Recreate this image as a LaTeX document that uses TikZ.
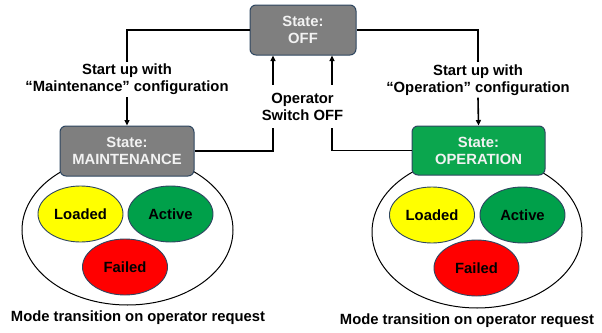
\documentclass[tikz,border=0pt]{standalone}
\usepackage{fontspec}
\setmainfont{Liberation Sans}
\usetikzlibrary{arrows.meta,shapes.geometric}

\definecolor{boxgray}{HTML}{7F7F7F}
\definecolor{boxgreen}{HTML}{0BA64E}
\definecolor{edgeblue}{HTML}{2E4660}
\definecolor{modeyellow}{HTML}{FFFF00}
\definecolor{modegreen}{HTML}{00A04A}
\definecolor{modered}{HTML}{FF0000}
\definecolor{boxtext}{HTML}{F2F2F2}

\tikzset{
  txt/.style={font=\fontsize{14.8}{17}\selectfont\bfseries},
  statebox/.style={txt, draw=edgeblue, line width=1pt, rounded corners=6pt,
    text=boxtext, align=center, inner sep=0pt},
  modeell/.style={txt, ellipse, draw=edgeblue, line width=0.9pt,
    minimum width=85pt, minimum height=56pt, inner sep=0pt},
  lbl/.style={txt, align=center, inner xsep=1pt},
  conn/.style={line width=1.6pt},
  arr/.style={conn, -{Triangle[length=5.5pt,width=5pt]}},
  group/.style={line width=1pt}
}

\begin{document}
\begin{tikzpicture}[x=1pt, y=-1pt]
\useasboundingbox (0,0) rectangle (602,332);

% outer ellipses grouping the modes of each state
\draw[group] (127.5,230) ellipse [x radius=105.5pt, y radius=75pt];
\draw[group] (477,232) ellipse [x radius=105pt, y radius=76pt];

% states
\node[statebox, fill=boxgray, minimum width=106pt, minimum height=50pt]
  (off) at (303,30) {State:\\OFF};
\node[statebox, fill=boxgray, minimum width=134pt, minimum height=50pt]
  (maint) at (127,151) {State:\\MAINTENANCE};
\node[statebox, fill=boxgreen, minimum width=133pt, minimum height=49pt]
  (oper) at (478.5,150.5) {State:\\OPERATION};

% transition labels
\node[lbl, inner ysep=2pt] (startm) at (127,79.5) {Start up with\\“Maintenance” configuration};
\node[lbl, inner ysep=2pt] (starto) at (478,80) {Start up with\\“Operation” configuration};
\node[lbl, inner ysep=8pt] (opsw) at (302.5,106.5) {Operator\\Switch OFF};

% transitions
\draw[conn] (off.west) -| (startm.north);
\draw[arr] (startm.south) -- (maint.north);
\draw[conn] (off.east) -| (starto.north);
\draw[arr] (starto.south) -- (oper.north);
\draw[conn] (maint.east) -| ([xshift=-29.5pt]opsw.south);
\draw[arr] ([xshift=-29.5pt]opsw.north) -- ([xshift=-30pt]off.south);
\draw[conn] (oper.west) -| ([xshift=29.5pt]opsw.south);
\draw[arr] ([xshift=29.5pt]opsw.north) -- ([xshift=29pt]off.south);

% modes of MAINTENANCE
\node[modeell, fill=modeyellow] (mloaded) at (80.5,214) {Loaded};
\node[modeell, fill=modegreen] (mactive) at (170.5,214) {Active};
\node[modeell, fill=modered] (mfailed) at (125,267) {Failed};

% modes of OPERATION
\node[modeell, fill=modeyellow] (oloaded) at (432,215) {Loaded};
\node[modeell, fill=modegreen] (oactive) at (522.5,215) {Active};
\node[modeell, fill=modered] (ofailed) at (476.5,268) {Failed};

% captions
\node[txt] (mcap) at (138,318) {Mode transition on operator request};
\node[txt] (ocap) at (467,321) {Mode transition on operator request};
\end{tikzpicture}
\end{document}
